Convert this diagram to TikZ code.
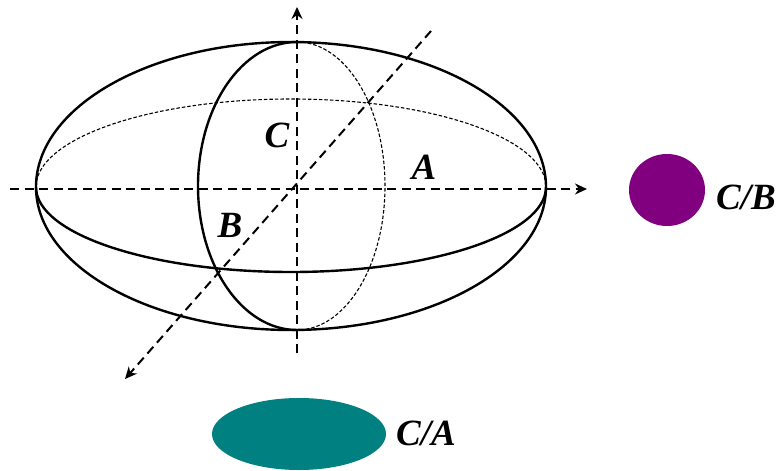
\documentclass[tikz,border=0pt]{standalone}
\usepackage{fontspec}
\setmainfont{Liberation Serif}
\usetikzlibrary{arrows.meta}
\begin{document}
\begin{tikzpicture}[x=1pt,y=-1pt,
  solid line/.style={line width=2.4pt,black},
  thin dot/.style={line width=1.1pt,dash pattern=on 3.5pt off 2pt,black},
  axis line/.style={line width=2pt,black,dash pattern=on 9pt off 5.5pt,-{Stealth[length=12pt,width=11pt]}},
  lab/.style={font=\fontsize{37}{37}\selectfont\bfseries\itshape,inner sep=0pt}]
\useasboundingbox (0,0) rectangle (779,471);
% outer ellipsoid
\draw[solid line] (36,187) arc[start angle=180,end angle=360,x radius=255,y radius=145];
\draw[solid line] (36,187) arc[start angle=180,end angle=0,x radius=255,y radius=143];
% equator
\draw[solid line] (36,187) arc[start angle=180,end angle=0,x radius=255,y radius=85];
\draw[thin dot] (36,187) arc[start angle=180,end angle=360,x radius=255,y radius=88];
% meridian
\draw[solid line] (297,42) arc[start angle=270,end angle=90,x radius=99,y radius=144];
\draw[thin dot] (297,42) arc[start angle=-90,end angle=90,x radius=88,y radius=144];
% axes
\coordinate (xa) at (10,189); \coordinate (xb) at (587,189);
\coordinate (za) at (297,353); \coordinate (zb) at (297,7);
\coordinate (ya) at (431,31); \coordinate (yb) at (125,379);
\draw[axis line] (xa) -- (xb);
\draw[axis line] (za) -- (zb);
\draw[axis line] (ya) -- (yb);
\node[lab] (lc) at (277,135) {C};
\node[lab] (la) at (424,167) {A};
\node[lab] (lb) at (230,225) {B};
\fill[fill={rgb,255:red,128;green,0;blue,128}] (667,190) ellipse[x radius=38,y radius=36];
\fill[fill={rgb,255:red,0;green,128;blue,128}] (299,434) ellipse[x radius=87,y radius=36];
\node[lab,anchor=west] (cb) at (716,197) {C/B};
\node[lab,anchor=west] (ca) at (396,433) {C/A};
\end{tikzpicture}
\end{document}
